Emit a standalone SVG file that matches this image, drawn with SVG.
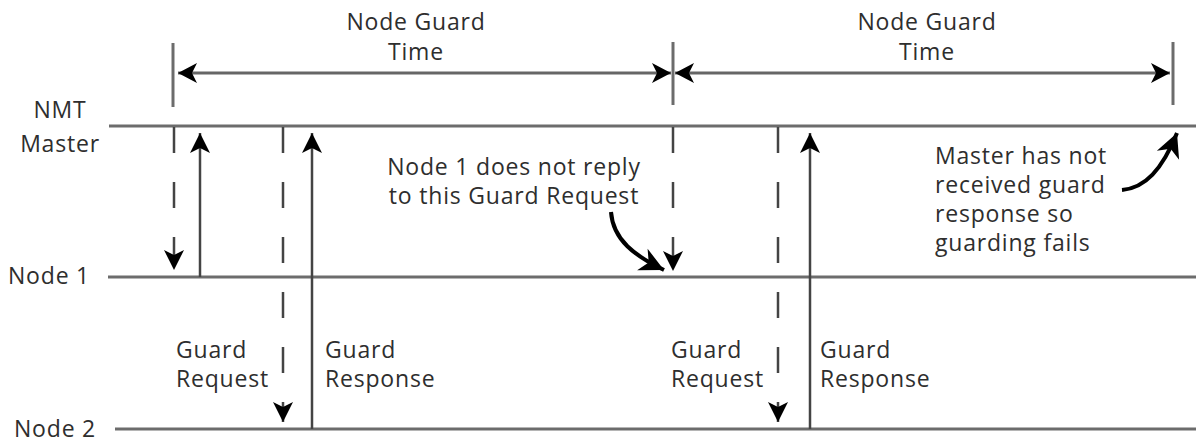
<svg xmlns="http://www.w3.org/2000/svg" width="1196" height="443" viewBox="0 0 1196 443">
<style>
  text { font-family: "Open Sans", "Liberation Sans", sans-serif; font-size: 23px; letter-spacing: 0.8px; fill: #2e2e2e; }
  .mid { text-anchor: middle; }
  .bus { stroke: #6c6c6c; stroke-width: 3; fill: none; }
  .tick { stroke: #6c6c6c; stroke-width: 3; fill: none; }
  .dim { stroke: #666; stroke-width: 3; fill: none; }
  .req { stroke: #444; stroke-width: 2.5; fill: none; stroke-dasharray: 26 29; }
  .resp { stroke: #444; stroke-width: 2.5; fill: none; }
  .note { stroke: #000; stroke-width: 4; fill: none; }
</style>
<defs>
  <marker id="ah" viewBox="-22 -11 24 22" refX="0" refY="0" markerWidth="24" markerHeight="22" markerUnits="userSpaceOnUse" orient="auto">
    <path d="M0,0 L-20,-10 L-15,0 L-20,10 Z" fill="#000"/>
  </marker>
  <marker id="ahs" viewBox="-22 -11 24 22" refX="0" refY="0" markerWidth="24" markerHeight="22" markerUnits="userSpaceOnUse" orient="auto-start-reverse">
    <path d="M0,0 L-19,-10 L-14,0 L-19,10 Z" fill="#000"/>
  </marker>
  <marker id="big" viewBox="-26 -13 28 26" refX="0" refY="0" markerWidth="28" markerHeight="26" markerUnits="userSpaceOnUse" orient="auto">
    <path d="M0,0 L-24,-12 L-17,0 L-24,12 Z" fill="#000"/>
  </marker>
</defs>

<g id="nmt-master">
  <line class="bus" x1="109" y1="126" x2="1196" y2="126"/>
  <text class="mid" x="60" y="118">NMT</text>
  <text class="mid" x="60" y="152">Master</text>
</g>
<g id="node1">
  <line class="bus" x1="108" y1="277" x2="1196" y2="277"/>
  <text x="8" y="284">Node 1</text>
</g>
<g id="node2">
  <line class="bus" x1="115" y1="429" x2="1196" y2="429"/>
  <text x="14" y="437">Node 2</text>
</g>

<g id="guard-time-1">
  <text class="mid" x="416" y="30">Node Guard</text>
  <text class="mid" x="416" y="60">Time</text>
</g>
<g id="guard-time-2">
  <text class="mid" x="927" y="30">Node Guard</text>
  <text class="mid" x="927" y="60">Time</text>
</g>

<g id="labels">
  <text x="176" y="358">Guard</text>
  <text x="176" y="387">Request</text>
  <text x="325" y="358">Guard</text>
  <text x="325" y="387">Response</text>
  <text x="671" y="358">Guard</text>
  <text x="671" y="387">Request</text>
  <text x="820" y="358">Guard</text>
  <text x="820" y="387">Response</text>
</g>

<g id="note-no-reply">
  <text class="mid" x="514" y="175">Node 1 does not reply</text>
  <text class="mid" x="514" y="204">to this Guard Request</text>
</g>
<g id="note-fails">
  <text x="935" y="164">Master has not</text>
  <text x="935" y="193">received guard</text>
  <text x="935" y="222">response so</text>
  <text x="935" y="251">guarding fails</text>
</g>

<g id="connectors">
  <line class="tick" x1="173" y1="43" x2="173" y2="107"/>
  <line class="tick" x1="673" y1="42" x2="673" y2="105"/>
  <line class="tick" x1="1173" y1="42" x2="1173" y2="105"/>
  <line class="dim" x1="178" y1="73" x2="671" y2="73" marker-start="url(#ahs)" marker-end="url(#ahs)"/>
  <line class="dim" x1="675" y1="73" x2="1170" y2="73" marker-start="url(#ahs)" marker-end="url(#ahs)"/>

  <line class="req" x1="174" y1="127" x2="174" y2="270" marker-end="url(#ah)"/>
  <line class="resp" x1="200" y1="277" x2="200" y2="133" marker-end="url(#ah)"/>
  <line class="req" x1="283" y1="127" x2="283" y2="422" marker-end="url(#ah)"/>
  <line class="resp" x1="312" y1="429" x2="312" y2="133" marker-end="url(#ah)"/>

  <line class="req" x1="673" y1="127" x2="673" y2="271" marker-end="url(#ah)"/>
  <line class="req" x1="778" y1="127" x2="778" y2="422" marker-end="url(#ah)"/>
  <line class="resp" x1="810" y1="429" x2="810" y2="133" marker-end="url(#ah)"/>

  <path class="note" d="M611,212 C613,240 635,256 664,270" marker-end="url(#big)"/>
  <path class="note" d="M1122,190 C1145,188 1162,170 1177,133" marker-end="url(#big)"/>
</g>
</svg>
